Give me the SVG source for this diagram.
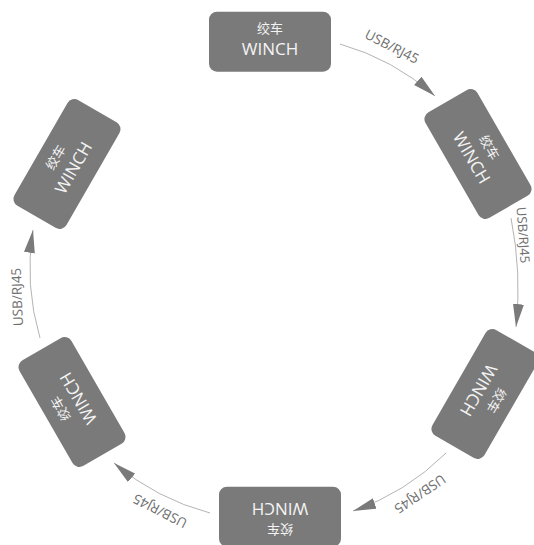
<svg xmlns="http://www.w3.org/2000/svg" width="534" height="545" viewBox="0 0 534 545">
  <style>
    .box { fill: #7a7a7a; }
    .cn { font-family: "Noto Sans CJK SC", "Open Sans", sans-serif; font-size: 13px; fill: #f4f4f4; text-anchor: middle; }
    .en { font-family: "Open Sans", "Noto Sans CJK SC", sans-serif; font-size: 17px; fill: #f4f4f4; text-anchor: middle; }
    .lbl { font-family: "Open Sans", "Liberation Sans", sans-serif; font-size: 13.5px; fill: #707070; text-anchor: middle; }
    .wire { fill: none; stroke: #b4b4b4; stroke-width: 1; marker-end: url(#ah); }
  </style>
  <defs>
    <marker id="ah" markerUnits="userSpaceOnUse" markerWidth="24" markerHeight="12" refX="23" refY="5.5" orient="auto">
      <path d="M0,0 L23,5.5 L0,11 z" fill="#7a7a7a"/>
    </marker>
  </defs>
  <rect width="534" height="545" fill="#ffffff"/>

  <g id="connectors">
    <path class="wire" d="M340,44 A245,245 0 0,1 435,96"/>
    <path class="wire" d="M511,218 A360,360 0 0,1 516,327"/>
    <path class="wire" d="M446,453 A245,245 0 0,1 353,511"/>
    <path class="wire" d="M210,513 A245,245 0 0,1 114,463"/>
    <path class="wire" d="M40,338 A245,245 0 0,1 33,230"/>
    <text class="lbl" transform="translate(392,46.5) rotate(27)" dy="0.36em">USB/RJ45</text>
    <text class="lbl" style="font-size:13px" transform="translate(523.2,235) rotate(86)" dy="0.36em">USB/RJ45</text>
    <text class="lbl" transform="translate(420,494) rotate(146)" dy="0.36em">USB/RJ45</text>
    <text class="lbl" transform="translate(160,511) rotate(207)" dy="0.36em">USB/RJ45</text>
    <text class="lbl" transform="translate(17,297) rotate(268)" dy="0.36em">USB/RJ45</text>
  </g>

  <g id="node1" transform="translate(270,41.7)">
    <rect class="box" x="-61" y="-30" width="122" height="60" rx="8"/>
    <text class="cn" x="0" y="-8.5">绞车</text>
    <text class="en" x="0" y="13.5">WINCH</text>
  </g>
  <g id="node2" transform="translate(478,154) rotate(60)">
    <rect class="box" x="-61" y="-30" width="122" height="60" rx="8"/>
    <text class="cn" x="0" y="-8.5">绞车</text>
    <text class="en" x="0" y="13.5">WINCH</text>
  </g>
  <g id="node3" transform="translate(485,394) rotate(120)">
    <rect class="box" x="-61" y="-30" width="122" height="60" rx="8"/>
    <text class="cn" x="0" y="-8.5">绞车</text>
    <text class="en" x="0" y="13.5">WINCH</text>
  </g>
  <g id="node4" transform="translate(280,516.7) rotate(180)">
    <rect class="box" x="-61" y="-30" width="122" height="60" rx="8"/>
    <text class="cn" x="0" y="-8.5">绞车</text>
    <text class="en" x="0" y="13.5">WINCH</text>
  </g>
  <g id="node5" transform="translate(72,402) rotate(240)">
    <rect class="box" x="-61" y="-30" width="122" height="60" rx="8"/>
    <text class="cn" x="0" y="-8.5">绞车</text>
    <text class="en" x="0" y="13.5">WINCH</text>
  </g>
  <g id="node6" transform="translate(67,164) rotate(300)">
    <rect class="box" x="-61" y="-30" width="122" height="60" rx="8"/>
    <text class="cn" x="0" y="-8.5">绞车</text>
    <text class="en" x="0" y="13.5">WINCH</text>
  </g>
</svg>
